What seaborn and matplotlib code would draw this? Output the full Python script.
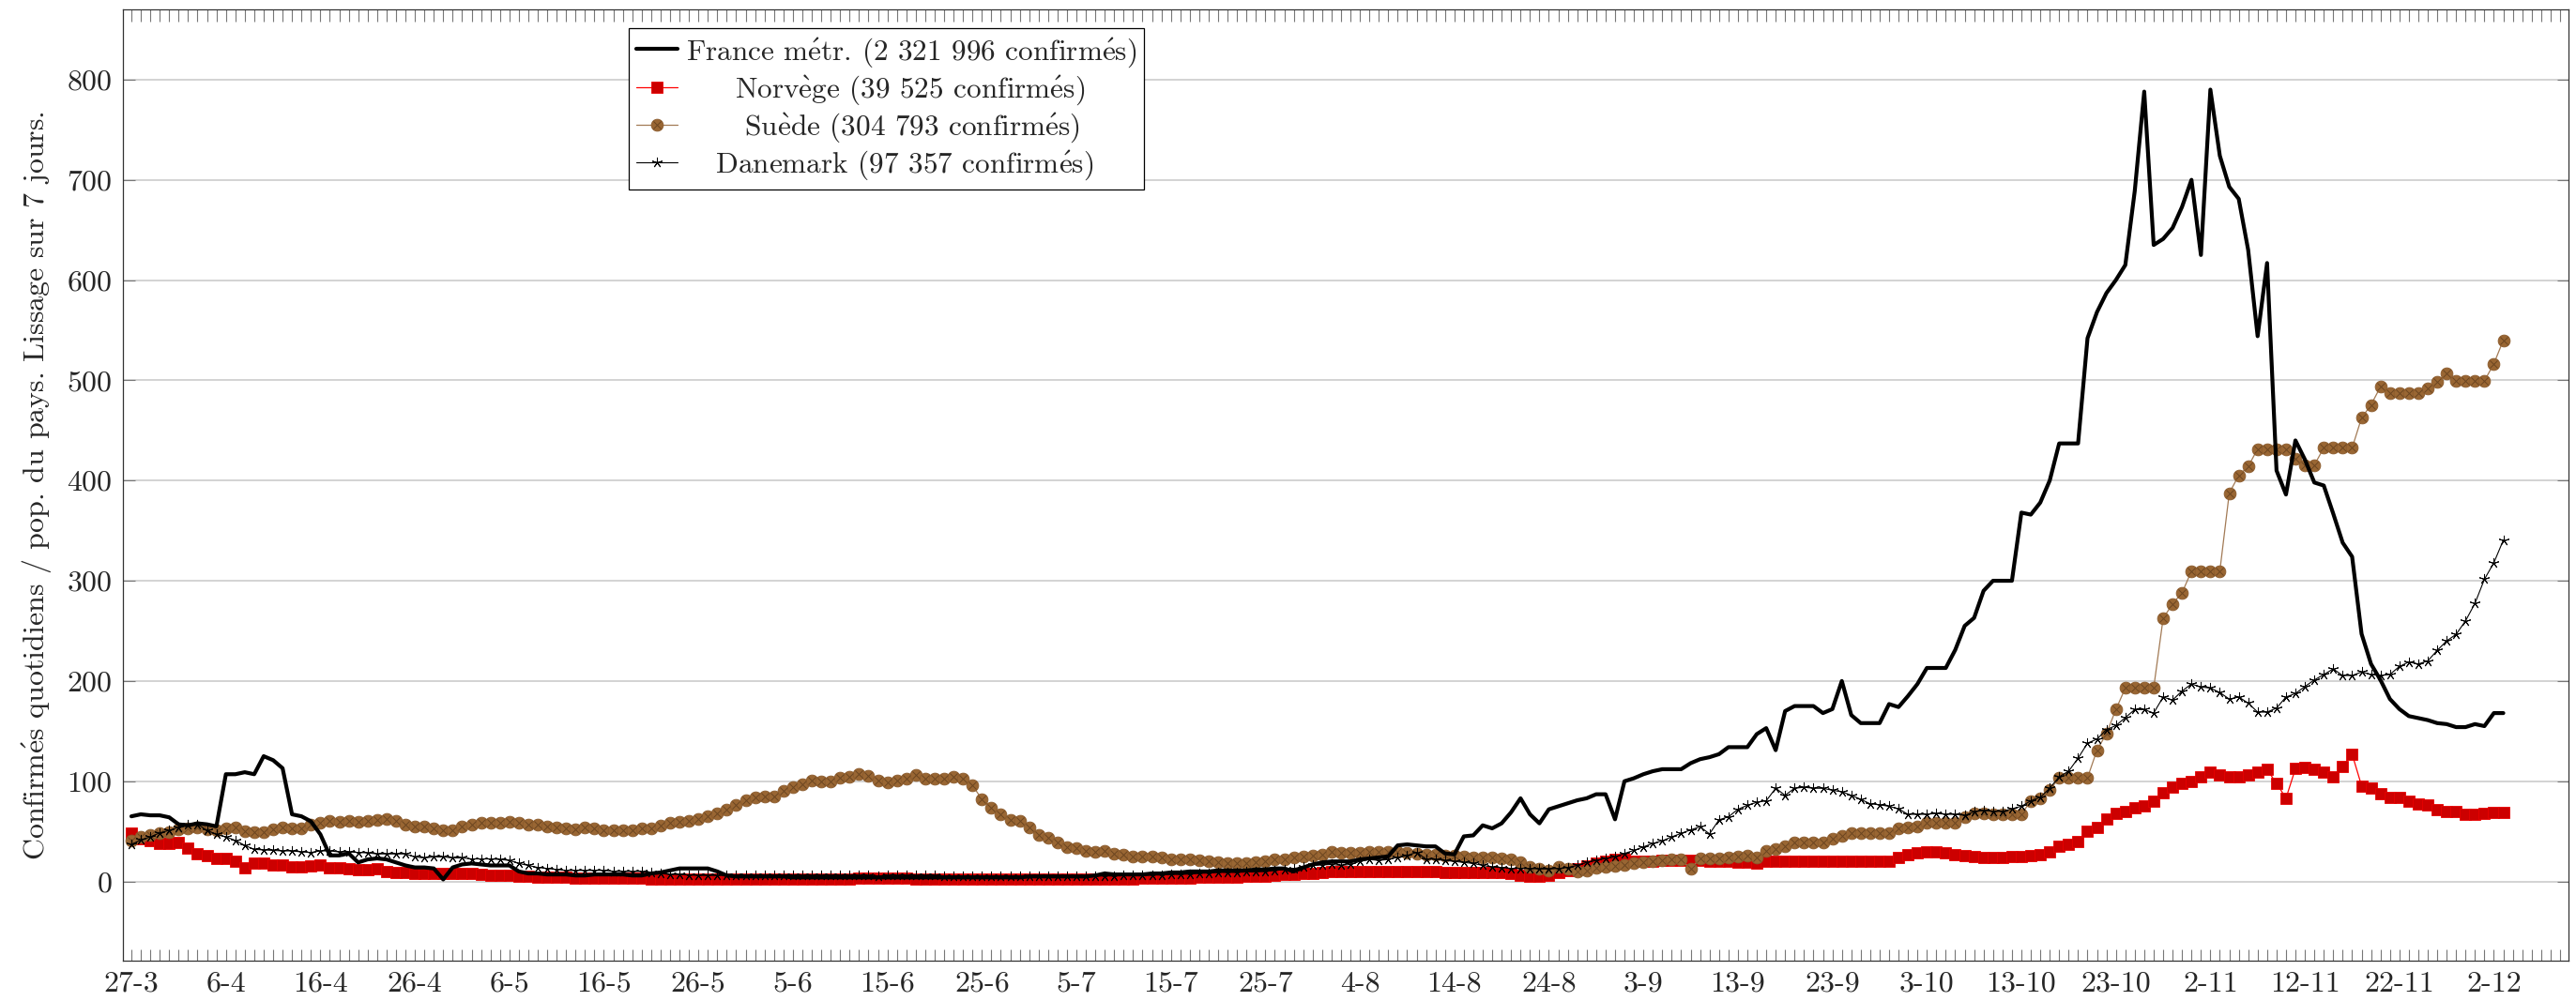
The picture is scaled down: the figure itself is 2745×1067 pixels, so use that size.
import pandas as pd
import seaborn as sns
import matplotlib.pyplot as plt
from matplotlib.legend_handler import HandlerTuple

# daily values from 27-3-2020 to 3-12-2020 (7-day smoothing, per pop.)
days = pd.date_range('2020-03-27', periods=252, freq='D')

france = [
    65, 67, 66, 66, 64, 57, 56, 58, 57, 55,
    107, 107, 109, 107, 125, 121, 113, 67, 65, 60,
    47, 26, 26, 28, 19, 22, 23, 22, 19, 16,
    14, 14, 13, 2, 14, 17, 18, 17, 16, 16,
    16, 10, 8, 8, 7, 7, 7, 6, 6, 7,
    7, 7, 7, 6, 6, 8, 9, 11, 13, 13,
    13, 13, 10, 6, 5, 5, 5, 5, 5, 5,
    4, 4, 4, 4, 4, 4, 4, 4, 4, 4,
    4, 4, 4, 4, 4, 4, 4, 4, 4, 4,
    4, 4, 4, 4, 4, 5, 5, 5, 5, 5,
    5, 5, 6, 8, 7, 7, 7, 7, 8, 8,
    9, 9, 10, 10, 10, 11, 11, 11, 11, 12,
    12, 13, 13, 10, 14, 17, 19, 20, 20, 20,
    22, 23, 24, 25, 36, 37, 36, 35, 35, 28,
    27, 45, 46, 56, 53, 58, 69, 83, 67, 58,
    72, 75, 78, 81, 83, 87, 87, 62, 100, 103,
    107, 110, 112, 112, 112, 118, 122, 124, 127, 134,
    134, 134, 147, 153, 131, 170, 175, 175, 175, 168,
    172, 200, 166, 158, 158, 158, 177, 174, 185, 197,
    213, 213, 213, 231, 255, 263, 290, 300, 300, 300,
    368, 366, 378, 400, 437, 437, 437, 542, 568, 587,
    600, 615, 689, 788, 635, 641, 652, 673, 700, 625,
    790, 724, 693, 681, 630, 544, 617, 410, 386, 440,
    421, 398, 395, 367, 338, 324, 247, 217, 201, 182,
    172, 165, 163, 161, 158, 157, 154, 154, 157, 155,
    168, 168,
]

norvege = [
    48, 43, 41, 38, 38, 39, 33, 28, 26, 23,
    23, 20, 14, 18, 18, 16.5, 16.5, 15, 15, 15.5,
    16.5, 14, 14, 12.5, 12, 12, 12.5, 10, 9, 9,
    8.5, 8, 8, 8, 8, 8, 8, 7.5, 6.5, 6.5,
    6, 5.5, 5, 4.5, 4, 4, 4, 3.5, 3.5, 3,
    3, 3, 3, 3, 3, 2.5, 2.5, 2.5, 2.5, 2.5,
    2.5, 2.5, 2.5, 2.5, 2.5, 2.5, 2.5, 2.5, 2.5, 2.5,
    2.5, 2.5, 2.5, 2.5, 2.5, 2.5, 2.5, 3, 3, 3,
    3, 3, 3, 2.5, 2.5, 2.5, 2.5, 2.5, 2.5, 2.5,
    2.5, 2.5, 2.5, 2.5, 2.5, 2.5, 2.5, 2.5, 2.5, 2.5,
    2.5, 2.5, 2.5, 2.5, 2.5, 2.5, 2.5, 3, 3, 3,
    3, 3.5, 3.5, 4, 4, 4, 4.5, 4.5, 5, 5,
    5.5, 6, 7, 7.5, 8, 8.5, 9, 9.5, 9.5, 9.5,
    10, 10, 10, 9.5, 9.5, 9.5, 9.5, 9.5, 9.5, 9,
    9, 9, 9, 9, 9, 9, 8, 6.5, 5.5, 5.5,
    6, 9, 10.5, 13, 15.5, 18, 20, 22, 22, 20,
    20, 20.5, 21, 21, 21, 21, 21, 20.5, 20.5, 20,
    19.5, 19, 18, 20, 20.5, 20.5, 20.5, 20.5, 20.5, 20.5,
    20.5, 20, 20, 20, 20, 20, 20, 24, 27, 28.5,
    29.5, 29.5, 28.5, 27, 25.5, 25, 24, 24, 24, 25,
    25, 26, 27, 29.5, 35, 37.5, 40, 50, 53.5, 62.5,
    68, 70, 73.5, 75, 80.5, 88.5, 94, 98, 100, 104.5,
    109, 106, 104.5, 104.5, 106, 109, 111.5, 98, 83, 112.5,
    113.5, 111.5, 109, 104.5, 115, 127, 95.5, 93, 87.5, 84,
    84, 80.5, 77.5, 76, 71.5, 69.5, 69.5, 67, 67, 68,
    68.5, 68.5,
]

suede = [
    41, 44.5, 46, 48, 49, 52, 53, 54, 52, 51,
    53, 54, 50, 49, 49, 52, 54, 53, 53, 57,
    59, 60, 59.5, 60, 59.5, 60, 61, 62, 60, 57,
    55, 54.5, 53, 51, 51, 54.5, 57, 58.5, 58.5, 58.5,
    59.5, 58.5, 57, 57, 54.5, 54, 53, 52, 54, 53,
    51, 51.5, 51, 51.5, 53, 53, 55.5, 58.5, 59.5, 60,
    62.5, 65, 68, 72, 76.5, 81.5, 84, 85, 85, 90.5,
    94.5, 97, 100.5, 99.5, 100, 103.5, 104.5, 107.5, 105.5, 100.5,
    99, 101, 103, 106, 103, 102.5, 103, 104.5, 103, 96,
    82, 74, 67, 61.5, 60, 54, 46, 44, 39, 34.5,
    33.5, 30.5, 29.5, 30.5, 27.5, 26.5, 25, 24.5, 24.5, 23.5,
    22.5, 22.5, 22, 21, 20, 19.5, 18, 18, 18, 19.5,
    20, 22.5, 22.5, 23.5, 24.5, 26, 27, 29.5, 29, 29,
    29, 29.5, 29.5, 29.5, 29.5, 29, 28, 27, 27, 26,
    25.5, 24.5, 24, 24, 24, 23, 22, 19.5, 14.5, 12.5,
    10.5, 14.5, 13, 10, 10.5, 14, 14.5, 15.5, 16, 18,
    19.5, 20, 21, 22, 22, 12.5, 23, 23, 23, 24,
    25, 25.5, 24, 30.5, 32, 35, 39, 39, 39, 39,
    43, 45.5, 48, 48, 48, 48, 48, 52.5, 53.5, 55,
    59, 59, 59, 59, 64, 68, 68, 67, 67, 67,
    67, 80.5, 83, 91, 103.5, 103.5, 103.5, 103.5, 131, 147.5,
    171.5, 193, 193, 193, 193, 262.5, 277, 288, 309.5, 309.5,
    309.5, 309.5, 387.5, 405, 414, 431.5, 431.5, 431.5, 431.5, 422,
    415.5, 415.5, 432.5, 432.5, 432.5, 432.5, 462.5, 475.5, 493.5, 487,
    487, 487, 487, 491.5, 498.5, 506.5, 499.5, 499.5, 499.5, 499.5,
    516.5, 540,
]

danemark = [
    37, 41.5, 44.5, 48.5, 51, 54, 56.5, 57, 51, 47,
    44.5, 41, 36, 32, 31.5, 31, 30.5, 30.5, 29.5, 29,
    30.5, 30.5, 29.5, 29.5, 29, 28.5, 27.5, 27.5, 27.5, 27.5,
    24.5, 23.5, 24.5, 24.5, 23.5, 23.5, 22.5, 22.5, 22.5, 22,
    21, 18, 16, 14, 13, 12, 11, 11, 11, 11,
    11, 10, 10, 10, 10, 9, 8, 7, 7, 6.5,
    6, 6, 6, 6, 6, 6, 6, 6, 6, 6,
    6, 6, 6, 6, 6, 6, 6, 6, 6, 5,
    6, 6, 6, 6, 6, 6, 5.5, 5.5, 5.5, 5.5,
    5.5, 5.5, 5.5, 5.5, 5.5, 5.5, 5.5, 5.5, 5.5, 5.5,
    5.5, 5.5, 5.5, 5.5, 5.5, 6, 6, 6, 6.5, 6.5,
    7, 7, 7.5, 8, 8.5, 9, 9, 9, 9.5, 9.5,
    10, 11, 12, 13, 14.5, 16, 16.5, 17, 16, 17,
    20, 22, 21, 22, 24, 26, 29, 22.5, 22, 21,
    20, 19, 18, 16, 14.5, 14, 13, 13, 13, 12.5,
    12.5, 13, 14, 16, 19, 21, 23, 24.5, 28, 31,
    34.5, 38, 40.5, 44.5, 48, 51.5, 54.5, 47.5, 61.5, 64.5,
    72, 76, 79, 80.5, 93, 86, 93, 94, 93, 93,
    91, 89.5, 86, 82, 77.5, 76.5, 75, 72.5, 67, 67,
    67, 68, 67, 67, 66, 69.5, 71, 70, 70, 72.5,
    75, 80.5, 84, 93, 104.5, 110, 123, 138, 142, 151.5,
    155.5, 163.5, 171.5, 171.5, 168, 184, 181, 190, 197, 194,
    193, 188.5, 182, 184, 178, 169, 169, 173, 184, 187.5,
    194.5, 201, 206.5, 212, 205.5, 205.5, 209, 206.5, 205.5, 206.5,
    214.5, 219, 217, 220, 230.5, 240, 246.5, 260, 277.5, 301.5,
    318, 340.5,
]

labels = [
    'France métr. (2 321 996 confirmés)',
    'Norvège (39 525 confirmés)',
    'Suède (304 793 confirmés)',
    'Danemark (97 357 confirmés)',
]
ylabel = 'Confirmés quotidiens / pop. du pays. Lissage sur 7 jours.'


def cm_text(s):
    # cmr10 has no precomposed accents: build them with mathtext
    return (s.replace('é', r'$\acute{\mathrm{e}}$')
             .replace('è', r'$\grave{\mathrm{e}}$'))


sns.set_theme(style='white')
plt.rcParams['font.family'] = ['cmr10', 'DejaVu Serif']
plt.rcParams['mathtext.fontset'] = 'cm'
plt.rcParams['axes.unicode_minus'] = False
plt.rcParams['axes.formatter.use_mathtext'] = True

fig, ax = plt.subplots(figsize=(27.45, 10.67), dpi=100)
fig.subplots_adjust(left=0.0477, right=0.9971, top=0.9906, bottom=0.0403)

sns.lineplot(x=days, y=norvege, ax=ax, color='#ff0000', lw=0.9,
             marker='s', markersize=8.5, markerfacecolor='#cc0000',
             markeredgecolor='#e80000', markeredgewidth=0.6, zorder=3)
h_no = ax.lines[-1]
sns.lineplot(x=days, y=suede, ax=ax, color='#a27a55', lw=0.9,
             marker='o', markersize=9.2, markerfacecolor='#996633',
             markeredgecolor='#8a5a2c', markeredgewidth=0.6, zorder=4)
h_se = ax.lines[-1]
sns.lineplot(x=days, y=suede, ax=ax, color='#6b4521', linestyle='',
             marker='x', markersize=6, markeredgewidth=0.7,
             markeredgecolor='#6b4521', zorder=4)
h_se_x = ax.lines[-1]
sns.lineplot(x=days, y=danemark, ax=ax, color='black', lw=0.8, zorder=5)
h_dk = ax.lines[-1]
h_dk.set_linestyle('-')
h_dk.set_marker((5, 2, 0))
h_dk.set_markersize(8)
h_dk.set_markeredgewidth(0.7)
h_dk.set_markeredgecolor('black')
sns.lineplot(x=days, y=france, ax=ax, color='black', lw=3, zorder=6)
h_fr = ax.lines[-1]

# axes limits and ticks
start = days[0]
ax.set_xlim(start - pd.Timedelta(days=0.9), start + pd.Timedelta(days=257.9))
ax.set_ylim(-79, 870)

major = days[::10]
ax.set_xticks(major)
ax.set_xticklabels([f'{d.day}-{d.month}' for d in major])
ax.set_xticks(pd.date_range(start, periods=258, freq='D'), minor=True)
ax.set_yticks(range(0, 801, 100))

ax.tick_params(axis='both', which='both', direction='in', color='#777777',
               width=0.8, length=9, labelsize=23)
ax.tick_params(axis='x', which='both', top=True, bottom=True, pad=8)
ax.tick_params(axis='y', which='both', left=True, right=True, pad=8)

ax.yaxis.grid(True, color='#cccccc', lw=1.2)
ax.xaxis.grid(False)
ax.set_axisbelow(True)
for s in ax.spines.values():
    s.set_color('#333333')
    s.set_linewidth(0.9)

ax.set_xlabel('')
ax.set_ylabel(cm_text(ylabel), fontsize=23, labelpad=10)

leg_labels = [cm_text(labels[0]), '     ' + cm_text(labels[1]),
              '      ' + cm_text(labels[2]), '   ' + cm_text(labels[3])]
leg = ax.legend(
    [h_fr, h_no, (h_se, h_se_x), h_dk], leg_labels,
    handler_map={tuple: HandlerTuple(ndivide=1, pad=0)},
    loc='upper left', bbox_to_anchor=(0.207, 0.980), borderaxespad=0,
    fontsize=22.5, frameon=True, fancybox=False, framealpha=1,
    edgecolor='black', handlelength=1.4, handletextpad=0.3,
    labelspacing=0.15, borderpad=0.25,
)
leg.get_frame().set_linewidth(0.9)

fig.savefig('out.png', dpi=100)
